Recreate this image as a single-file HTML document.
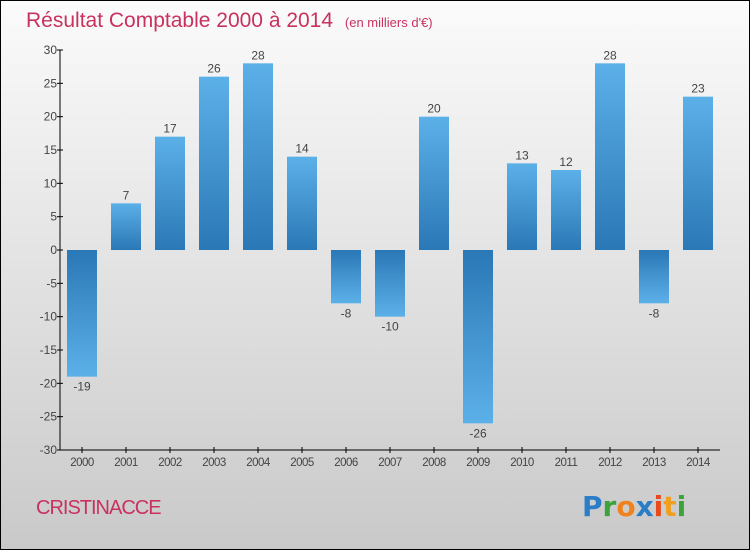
<!DOCTYPE html>
<html><head><meta charset="utf-8"><style>
html,body{margin:0;padding:0}
body{width:750px;height:550px;overflow:hidden;font-family:"Liberation Sans",sans-serif}
</style></head><body>
<svg width="750" height="550" xmlns="http://www.w3.org/2000/svg">
<defs>
<linearGradient id="bg" x1="0" y1="0" x2="0" y2="1"><stop offset="0" stop-color="#fbfbfb"/><stop offset="1" stop-color="#c9c9c9"/></linearGradient>
<linearGradient id="gp" x1="0" y1="0" x2="0" y2="1"><stop offset="0" stop-color="#5cb0e8"/><stop offset="1" stop-color="#2a78b6"/></linearGradient>
<linearGradient id="gn" x1="0" y1="0" x2="0" y2="1"><stop offset="0" stop-color="#2a78b6"/><stop offset="1" stop-color="#5cb0e8"/></linearGradient>
</defs>
<rect x="0.5" y="0.5" width="749" height="549" fill="url(#bg)" stroke="#000"/>
<text x="26" y="27" font-size="21" fill="#c8325f">Résultat Comptable 2000 à 2014 <tspan font-size="13" dx="6">(en milliers d'€)</tspan></text>
<g id="bars"></g>
<g id="axes"></g>
<text x="36" y="514" font-size="20" fill="#c8325f" letter-spacing="-1">CRISTINACCE</text>
<g font-size="28" font-weight="bold" font-family="'DejaVu Sans',sans-serif">
<text x="582" y="516"><tspan fill="#2a7ec8">P</tspan><tspan fill="#3aa33a">r</tspan><tspan fill="#f0821e">o</tspan><tspan fill="#2a7ec8">x</tspan><tspan fill="#e84a1e">i</tspan><tspan fill="#f0a01e">t</tspan><tspan fill="#3aa33a">i</tspan></text>
</g>
</svg>
<script>
const years=["2000","2001","2002","2003","2004","2005","2006","2007","2008","2009","2010","2011","2012","2013","2014"];
const values=[-19,7,17,26,28,14,-8,-10,20,-26,13,12,28,-8,23];
const yTicks=[30,25,20,15,10,5,0,-5,-10,-15,-20,-25,-30];
const NS="http://www.w3.org/2000/svg";
const x0=60,x1=720,yMin=-30,yMax=30,plotTop=50,plotBot=450;
const y=v=>plotTop+(yMax-v)/(yMax-yMin)*(plotBot-plotTop);
const step=(x1-x0)/years.length;
const xc=i=>x0+step*(i+0.5);
function mk(t,a){const e=document.createElementNS(NS,t);for(const k in a)e.setAttribute(k,a[k]);return e;}
const bars=document.getElementById('bars'),axes=document.getElementById('axes');
values.forEach((v,i)=>{
 const yt=Math.min(y(v),y(0)),h=Math.abs(y(v)-y(0));
 const r=mk('rect',{x:xc(i)-15,y:yt,width:30,height:h,fill:v>=0?'url(#gp)':'url(#gn)'});
 
 
 bars.appendChild(r);
 const t=mk('text',{x:xc(i),y:v>=0?y(v)-4:y(v)+14,'font-size':12,fill:'#444','text-anchor':'middle'});
 t.textContent=v;
 
 
 bars.appendChild(t);
});
const ya=mk('line',{x1:x0,y1:plotTop,x2:x0,y2:plotBot,stroke:'#000'});


axes.appendChild(ya);
const xa=mk('line',{x1:x0,y1:plotBot,x2:x1,y2:plotBot,stroke:'#000'});


axes.appendChild(xa);
yTicks.forEach(v=>{
 axes.appendChild(mk('line',{x1:x0-3,y1:y(v),x2:x0+3,y2:y(v),stroke:'#000'}));
 const t=mk('text',{x:x0-3,y:y(v)+4,'font-size':12,fill:'#444','text-anchor':'end'});
 t.textContent=v;
 
 
 axes.appendChild(t);
});
years.forEach((yr,i)=>{
 axes.appendChild(mk('line',{x1:xc(i),y1:plotBot-3,x2:xc(i),y2:plotBot+3,stroke:'#000'}));
 const t=mk('text',{x:xc(i),y:plotBot+16,'font-size':11.5,fill:'#444','text-anchor':'middle','letter-spacing':'-0.5'});
 t.textContent=yr;
 
 
 axes.appendChild(t);
});
</script>
</body></html>
